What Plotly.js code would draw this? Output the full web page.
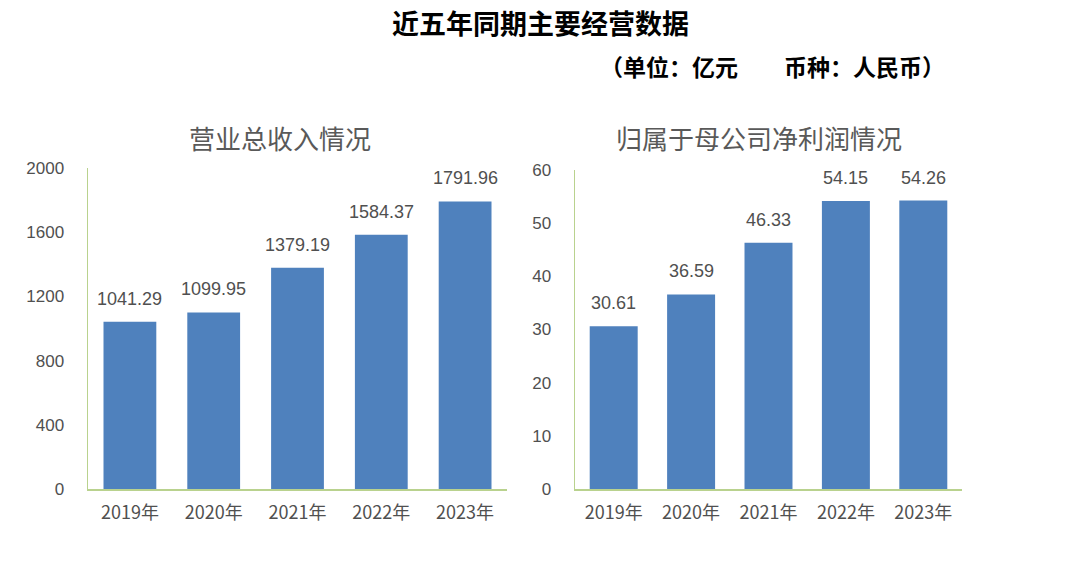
<!DOCTYPE html>
<html><head><meta charset="utf-8">
<script src="https://cdn.plot.ly/plotly-3.0.1.min.js"></script>
<style>html,body{margin:0;padding:0;background:#fff}#c{width:1080px;height:566px}</style>
</head><body><div id="c"></div>
<script>
const years = ['2019年','2020年','2021年','2022年','2023年'];
const revenue = [1041.29, 1099.95, 1379.19, 1584.37, 1791.96];
const netProfit = [30.61, 36.59, 46.33, 54.15, 54.26];
const revTicks = [0, 400, 800, 1200, 1600, 2000];
const profitTicks = [0, 10, 20, 30, 40, 50, 60];

const W = 1080, H = 566;
const px = x => x / W, py = y => 1 - y / H;
const barColor = '#4F81BD';
const axisColor = '#B9D28E';
const txt = '#505050';
const cjk = '"Noto Sans CJK SC", "Liberation Sans", sans-serif';
const num = '"Liberation Sans", "Noto Sans CJK SC", sans-serif';

const traces = [
  {type:'bar', x:years, y:revenue, xaxis:'x', yaxis:'y', marker:{color:barColor},
   width:0.63, hoverinfo:'x+y'},
  {type:'bar', x:years, y:netProfit, xaxis:'x2', yaxis:'y2', marker:{color:barColor},
   width:0.62, hoverinfo:'x+y'}
];

const xa = (dom, anchor) => ({domain:dom, anchor:anchor, showline:true, linecolor:axisColor, linewidth:1.5,
  showgrid:false, zeroline:false, ticks:'', tickfont:{family:cjk, size:18, color:txt}, ticklabelstandoff:7, fixedrange:true});
const ya = (dom, anchor, range, ticks) => ({domain:dom, anchor:anchor, range:range, tickvals:ticks, showline:true,
  linecolor:axisColor, linewidth:1.5, showgrid:false, zeroline:false, ticks:'', ticklabelstandoff:19,
  tickfont:{family:num, size:17, color:txt}, fixedrange:true});

const labelAnns = [];
years.forEach((c, i) => {
  labelAnns.push({x:c, y:revenue[i], xref:'x', yref:'y', text:revenue[i].toFixed(2), showarrow:false,
    xanchor:'center', yanchor:'bottom', yshift:11, font:{family:num, size:18, color:txt}});
  labelAnns.push({x:c, y:netProfit[i], xref:'x2', yref:'y2', text:netProfit[i].toFixed(2), showarrow:false,
    xanchor:'center', yanchor:'bottom', yshift:11, font:{family:num, size:18, color:txt}});
});

const layout = {
  width:W, height:H, margin:{l:0,r:0,t:0,b:0}, paper_bgcolor:'#fff', plot_bgcolor:'#fff',
  showlegend:false,
  xaxis: xa([px(88), px(507)], 'y'),
  yaxis: ya([py(489), py(168)], 'x', [0, 2000], revTicks),
  xaxis2: xa([px(575), px(962)], 'y2'),
  yaxis2: ya([py(489), py(170)], 'x2', [0, 60], profitTicks),
  annotations: [
    {text:'<b>近五年同期主要经营数据</b>', x:px(540), y:py(23), xref:'paper', yref:'paper', showarrow:false,
     xanchor:'center', yanchor:'middle', font:{family:cjk, size:27, color:'#000'}},
    {text:'<b>（单位：亿元　　币种：人民币）</b>', x:px(947), y:py(66), xref:'paper', yref:'paper', showarrow:false,
     xanchor:'right', yanchor:'middle', font:{family:cjk, size:23, color:'#000'}},
    {text:'营业总收入情况', x:px(280), y:py(138), xref:'paper', yref:'paper', showarrow:false,
     xanchor:'center', yanchor:'middle', font:{family:cjk, size:26, color:'#595959'}},
    {text:'归属于母公司净利润情况', x:px(759), y:py(138), xref:'paper', yref:'paper', showarrow:false,
     xanchor:'center', yanchor:'middle', font:{family:cjk, size:26, color:'#595959'}}
  ].concat(labelAnns)
};
Plotly.newPlot('c', traces, layout, {displayModeBar:false, staticPlot:true});
</script></body></html>
